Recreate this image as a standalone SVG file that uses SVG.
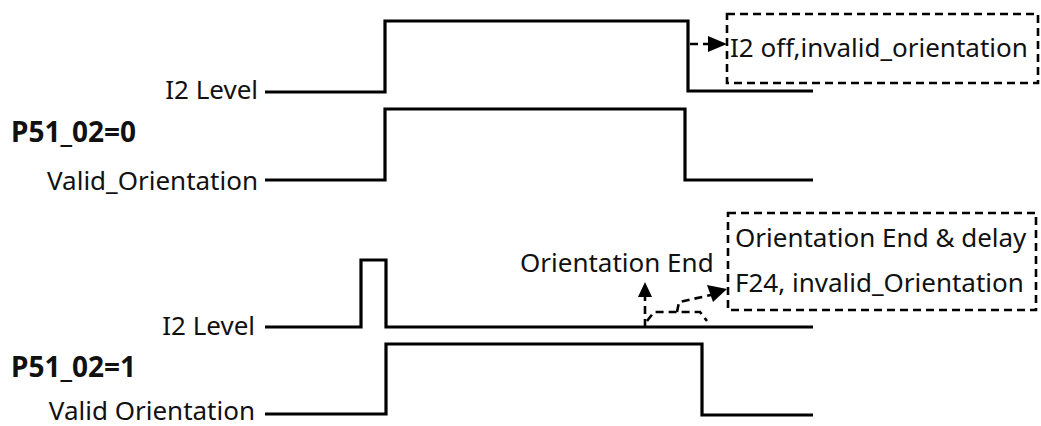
<svg xmlns="http://www.w3.org/2000/svg" width="1041" height="426" viewBox="0 0 1041 426">
<style>
.lbl{font-family:"Noto Sans","Liberation Sans",sans-serif;font-size:26px;fill:#111}
.bold{font-weight:bold;font-size:28px}
.wave{fill:none;stroke:#000;stroke-width:3.2;stroke-linejoin:miter}
.dash{fill:none;stroke:#000;stroke-width:2.6;stroke-dasharray:8 5}
.head{fill:#000}
</style>
<g id="labels">
<text class="lbl" x="258" y="99" text-anchor="end">I2 Level</text>
<text class="lbl bold" x="11" y="142">P51_02=0</text>
<text class="lbl" x="258" y="190" text-anchor="end">Valid_Orientation</text>
<text class="lbl" x="255" y="335" text-anchor="end">I2 Level</text>
<text class="lbl bold" x="11" y="377">P51_02=1</text>
<text class="lbl" x="255" y="420" text-anchor="end">Valid Orientation</text>
</g>
<g id="wave1"><path class="wave" d="M265,92 H385 V21 H688 V91 H813"/></g>
<g id="wave2"><path class="wave" d="M265,180 H385 V109 H685 V180 H813"/></g>
<g id="wave3"><path class="wave" d="M265,327 H361 V260 H386 V327 H813"/></g>
<g id="wave4"><path class="wave" d="M265,414 H386 V344 H702 V415 H813"/></g>
<g id="box1">
<rect class="dash" x="727" y="14" width="311" height="69"/>
<text class="lbl" x="730" y="57">I2 off,invalid_orientation</text>
</g>
<g id="box2">
<rect class="dash" x="728" y="213" width="308" height="97"/>
<text class="lbl" x="735" y="247">Orientation End &amp; delay</text>
<text class="lbl" x="735" y="292">F24, invalid_Orientation</text>
</g>
<g id="note">
<text class="lbl" x="520" y="272">Orientation End</text>
</g>
<g id="connectors">
<path class="dash" d="M690,44 H710"/>
<path class="head" d="M708,36 L727,44 L708,52 z"/>
<path class="dash" d="M645,327 V296" stroke-dasharray="7 4"/>
<path class="head" d="M638,297 L645,282 L652,297 z"/>
<path class="dash" d="M647,321 L654,312 H700 L707,321" stroke-dasharray="6 4"/>
<path class="dash" d="M677,312 L679,302 L711,295" stroke-dasharray="6 4"/>
<path class="head" d="M707,285 L727,289 L713,302 z"/>
</g>
</svg>
